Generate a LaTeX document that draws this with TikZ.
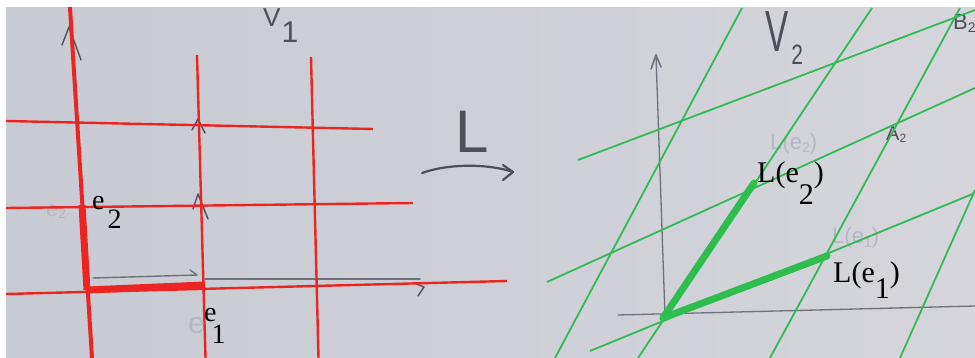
\documentclass[tikz,border=0pt]{standalone}
\usepackage{fontspec}
\setmainfont{Liberation Serif}
\newfontfamily\handfont{Liberation Sans}
\usepackage{graphicx}
\definecolor{boardl}{RGB}{200,203,211}
\definecolor{boardr}{RGB}{213,213,219}
\definecolor{redpen}{RGB}{236,36,34}
\definecolor{greenpen}{RGB}{52,184,88}
\definecolor{greenthick}{RGB}{46,190,78}
\definecolor{marker}{RGB}{78,78,92}
\definecolor{axisgray}{RGB}{112,112,124}
\definecolor{ghost}{RGB}{184,182,197}

\begin{document}
\begin{tikzpicture}[x=1pt,y=-1pt,
  redgrid/.style={redpen,line width=2.4pt},
  greengrid/.style={greenpen,line width=1.8pt},
  redvec/.style={redpen,line width=7pt},
  greenvec/.style={greenthick,line width=7pt,line cap=round},
  pen/.style={marker,line width=1.4pt,line cap=round,line join=round},
  lbl/.style={inner sep=0pt,anchor=base west,font=\fontsize{28}{28}\selectfont},
  lblL/.style={inner sep=0pt,anchor=base west,font=\fontsize{30}{30}\selectfont},
  hand/.style={inner sep=0pt,anchor=base west,text=marker},
  ghosttext/.style={inner sep=0pt,anchor=base west,text=ghost}]
\useasboundingbox (0,0) rectangle (975,358);
\fill[white] (0,0) rectangle (975,358);
\begin{scope}
\clip (6,8) rectangle (975,358);
\shade[left color=boardl,right color=boardr] (6,8) rectangle (975,358);
\coordinate (O1) at (87,290);
\coordinate (E1) at (205,285);
\coordinate (E2) at (82,205);
\coordinate (O2) at (663,318);
\coordinate (LE1) at (827,256);
\coordinate (LE2) at (754,183);
\draw[pen] (62,45) -- (69,27) -- (81,60);
\draw[pen] (192,130) -- (198,119) -- (205,133);
\draw[pen] (193,209) -- (198,194) -- (208,219);
\draw[pen,axisgray] (93,278) -- (197,275);
\draw[pen,axisgray] (190,270) -- (197,275);
\draw[pen,axisgray] (205,279) -- (420,279);
\draw[pen] (414,283) -- (424,287) -- (418,296);
\draw[pen,line width=2.2pt] (422,173) .. controls (450,163) and (490,164) .. (513,172);
\draw[pen,line width=2.2pt] (503,165) -- (513,172) -- (503,180);
\draw[pen,axisgray,line width=1.3pt] (618,315) -- (975,306);
\draw[pen,axisgray,line width=1.3pt] (665,316) -- (656,56);
\draw[pen,axisgray,line width=1.6pt] (651,69) -- (656,55) -- (661,67);
\node[hand,font=\handfont\fontsize{26}{26}\selectfont] (V1) at (263,27)
  {V\kern1pt\raisebox{-16pt}{\fontsize{30}{30}\selectfont 1}};
\node[hand,font=\handfont\fontsize{58}{58}\selectfont] (V2) at (765,52)
  {\scalebox{0.6}[1]{V}\kern3pt\raisebox{-13pt}{\fontsize{28}{28}\selectfont\scalebox{0.75}[1]{2}}};
\node[hand,font=\handfont\fontsize{60}{60}\selectfont] (Lmap) at (455,153) {L};
\node[hand,font=\handfont\fontsize{20}{20}\selectfont] (A2) at (886,141)
  {A\raisebox{-2pt}{\fontsize{12}{12}\selectfont 2}};
\node[hand,font=\handfont\fontsize{22}{22}\selectfont] (B2) at (953,30)
  {B\raisebox{-3pt}{\fontsize{14}{14}\selectfont 2}};
\node[ghosttext,font=\handfont\fontsize{22}{22}\selectfont] (e2hand) at (46,217)
  {e\raisebox{-2pt}{\fontsize{14}{14}\selectfont 2}};
\node[ghosttext,font=\handfont\fontsize{30}{30}\selectfont] (e1hand) at (188,334) {e};
\node[ghosttext,font=\handfont\fontsize{22}{22}\selectfont] (Le2hand) at (770,150)
  {L(e\raisebox{-3pt}{\fontsize{14}{14}\selectfont 2})};
\node[ghosttext,font=\handfont\fontsize{22}{22}\selectfont] (Le1hand) at (832,244)
  {L(e\raisebox{-3pt}{\fontsize{14}{14}\selectfont 1})};
\draw[redgrid,line width=4pt] (69.5,0) -- (92,358);
\draw[redgrid] (197,55) -- (205.5,358);
\draw[redgrid] (311,57) -- (318.5,358);
\draw[redgrid] (6,121) -- (373,129);
\draw[redgrid] (6,208) -- (413,203);
\draw[redgrid] (6,294) -- (507,281);
\draw[redvec] (E2) -- (O1);
\draw[redvec] (O1) -- (E1);
\draw[greengrid] (590,351) -- (975,193);
\draw[greengrid] (547,282) -- (975,88);
\draw[greengrid] (578,160) -- (975,10);
\draw[greengrid] (555,358) -- (742,8);
\draw[greengrid] (638,358) -- (872,8);
\draw[greengrid] (770,358) -- (960,8);
\draw[greengrid] (900,358) -- (975,190);
\draw[greenvec] (O2) -- (LE2);
\draw[greenvec] (O2) -- (LE1);
\end{scope}
\node[lbl] (e2lbl) at (92,210) {e\kern3pt\raisebox{-19pt}{2}};
\node[lbl] (e1lbl) at (204,321) {e\kern-5pt\raisebox{-22pt}{1}};
\node[lblL] (Le2lbl) at (757,183) {L(e\raisebox{-22pt}{2})};
\node[lblL] (Le1lbl) at (833,283) {L(e\raisebox{-16pt}{1})};
\end{tikzpicture}
\end{document}
